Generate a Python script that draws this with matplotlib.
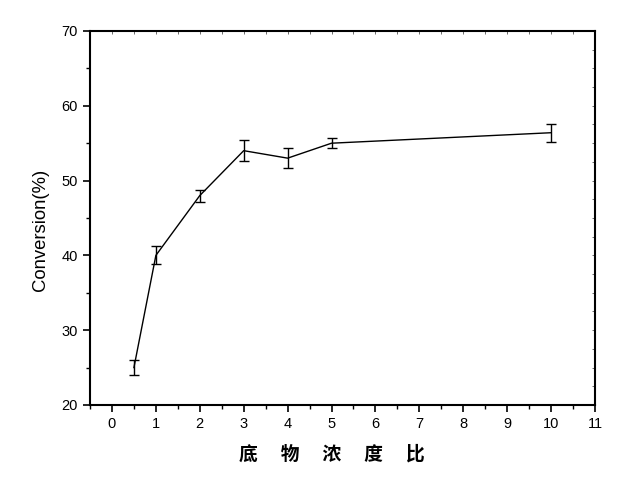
import numpy as np
import matplotlib.pyplot as plt
from matplotlib.ticker import MultipleLocator, NullFormatter

# data
ratio = [0.5, 1, 2, 3, 4, 5, 10]
conversion = [25.0, 40.0, 48.0, 54.0, 53.0, 55.0, 56.4]
err = [1.0, 1.2, 0.8, 1.4, 1.3, 0.7, 1.2]

plt.rcParams['font.family'] = ['Liberation Sans', 'DejaVu Sans']

fig = plt.figure(figsize=(6.42, 4.79), dpi=100)
ax = fig.add_axes([0.1402, 0.1545, 0.7866, 0.7808])

ax.errorbar(ratio, conversion, yerr=err, color='black', lw=1.0,
            elinewidth=1.0, capsize=3.5, capthick=1.0)

ax.set_xlim(-0.5, 11)
ax.set_ylim(20, 70)
ax.xaxis.set_major_locator(MultipleLocator(1))
ax.xaxis.set_minor_locator(MultipleLocator(0.5))
ax.yaxis.set_major_locator(MultipleLocator(10))
ax.yaxis.set_minor_locator(MultipleLocator(5))
ax.tick_params(which='major', direction='out', length=5, width=1.2,
               labelsize=10.5, pad=4)
ax.tick_params(which='minor', direction='out', length=3, width=1.0)

for s in ax.spines.values():
    s.set_linewidth(1.5)

# small inward ticks on the top and right frame
top = ax.secondary_xaxis('top')
top.xaxis.set_major_locator(MultipleLocator(0.5))
top.xaxis.set_major_formatter(NullFormatter())
top.tick_params(direction='in', length=2, width=0.6, colors='#555555')
top.spines['top'].set_visible(False)
right = ax.secondary_yaxis('right')
right.yaxis.set_major_locator(MultipleLocator(2.5))
right.yaxis.set_major_formatter(NullFormatter())
right.tick_params(direction='in', length=2, width=0.6, colors='#555555')
right.spines['right'].set_visible(False)

ax.set_ylabel('Conversion(%)', fontsize=13.3)
ax.yaxis.set_label_coords(-0.082, 0.468)
ax.set_xlabel('底\u3000 物\u3000 浓\u3000 度\u3000 比', fontsize=13.5,
              fontweight='bold', family=['Noto Sans CJK SC', 'DejaVu Sans'])
ax.xaxis.set_label_coords(0.478, -0.106)

fig.savefig('out.png', dpi=100)
